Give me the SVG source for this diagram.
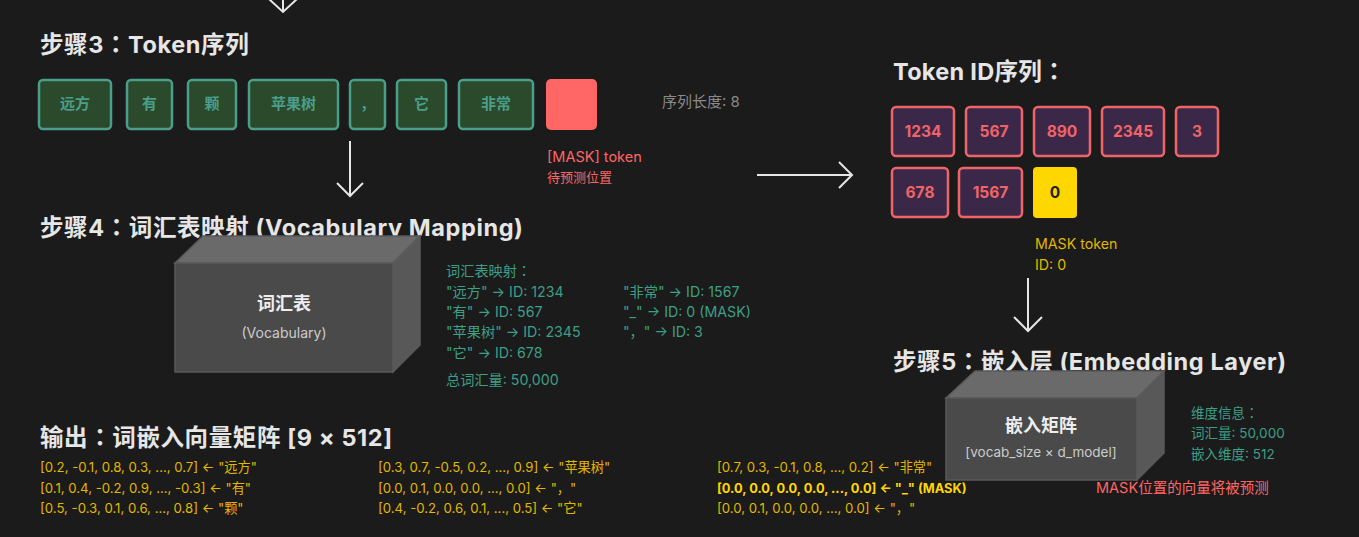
<svg xmlns="http://www.w3.org/2000/svg" width="1359" height="537" viewBox="0 0 1359 537">
<defs>
<style>
text{font-family:"Inter","Noto Sans CJK SC",sans-serif}
.title{font-size:23.5px;font-weight:700;fill:#e6e6e6;letter-spacing:0.6px}
.c{font-family:"Noto Sans CJK TC",sans-serif}
.tok rect{fill:#2b4a2b;stroke:#4a9e8a;stroke-width:2.5}
.tok text{font-size:15px;font-weight:700;fill:#4a9e8a;text-anchor:middle}
.id rect{fill:#3b2848;stroke:#f06468;stroke-width:2.5}
.id text{font-size:15.5px;font-weight:700;fill:#f06468;text-anchor:middle}
.teal{font-size:14.2px;fill:#3d9f86}
.vec{font-size:13.2px;fill:#e0b800}
.arrow{stroke:#e6e6e6;stroke-width:2;fill:none}
.front{fill:#4a4a4a;stroke:#5a5a5a;stroke-width:1.5}
.top{fill:#6a6a6a;stroke:#5a5a5a;stroke-width:1.5}
.side{fill:#585858;stroke:#5a5a5a;stroke-width:1.5}
</style>
</defs>
<rect width="1359" height="537" fill="#1b1b1b"/>

<g id="connectors">
<path class="arrow" d="M283 0V12M269 -1L283 12L297 -1"/>
<path class="arrow" d="M350 141V196M337 183L350 196L363 183"/>
<path class="arrow" d="M757 175H852M839 162L852 175L839 188"/>
<path class="arrow" d="M1028 278V331M1014 317L1028 331L1042 317"/>
</g>

<g id="step3">
<text class="title" x="40" y="53">步骤3<tspan class="c">：</tspan>Token序列</text>
<g class="tok" id="tok1"><rect x="39" y="80" width="72" height="49" rx="4"/><text x="75" y="109">远方</text></g>
<g class="tok" id="tok2"><rect x="127" y="80" width="45" height="49" rx="4"/><text x="149.5" y="109">有</text></g>
<g class="tok" id="tok3"><rect x="188" y="80" width="48" height="49" rx="4"/><text x="212" y="109">颗</text></g>
<g class="tok" id="tok4"><rect x="249" y="80" width="89" height="49" rx="4"/><text x="293.5" y="109">苹果树</text></g>
<g class="tok" id="tok5"><rect x="350" y="80" width="35" height="49" rx="4"/><text x="367.5" y="109">，</text></g>
<g class="tok" id="tok6"><rect x="397" y="80" width="49" height="49" rx="4"/><text x="421.5" y="109">它</text></g>
<g class="tok" id="tok7"><rect x="459" y="80" width="74" height="49" rx="4"/><text x="496" y="109">非常</text></g>
<g id="tok8"><rect x="546" y="79" width="51" height="51" rx="5" fill="#ff6666"/></g>
<text x="662" y="107" font-size="15" fill="#8a8a8a">序列长度: 8</text>
<text x="547" y="162" font-size="14.5" fill="#ff6666">[MASK] token</text>
<text x="547" y="182" font-size="13" fill="#ff6666">待预测位置</text>
</g>

<g id="tokenids">
<text class="title" x="893" y="80" style="letter-spacing:0.3px">Token ID序列<tspan class="c">：</tspan></text>
<g class="id" id="id1"><rect x="892" y="107" width="62" height="49" rx="4"/><text x="923" y="137">1234</text></g>
<g class="id" id="id2"><rect x="966" y="107" width="56" height="49" rx="4"/><text x="994" y="137">567</text></g>
<g class="id" id="id3"><rect x="1034" y="107" width="56" height="49" rx="4"/><text x="1062" y="137">890</text></g>
<g class="id" id="id4"><rect x="1102" y="107" width="62" height="49" rx="4"/><text x="1133" y="137">2345</text></g>
<g class="id" id="id5"><rect x="1176" y="107" width="42" height="49" rx="4"/><text x="1197" y="137">3</text></g>
<g class="id" id="id6"><rect x="892" y="168" width="56" height="49" rx="4"/><text x="920" y="198">678</text></g>
<g class="id" id="id7"><rect x="959" y="168" width="63" height="49" rx="4"/><text x="990.5" y="198">1567</text></g>
<g id="id8"><rect x="1033" y="167" width="44" height="51" rx="4" fill="#ffd700"/><text x="1055" y="198" font-size="15.5" font-weight="700" fill="#222" text-anchor="middle">0</text></g>
<text x="1035" y="249" font-size="14.2" fill="#e0b800">MASK token</text>
<text x="1035" y="270" font-size="14.2" fill="#e0b800">ID: 0</text>
</g>

<g id="step4">
<text class="title" x="40" y="236">步骤4<tspan class="c">：</tspan>词汇表映射 (Vocabulary Mapping)</text>
<g id="vocab">
<polygon class="top" points="175,263 203,236 420,236 393,263"/>
<polygon class="side" points="393,263 420,236 420,345 393,372"/>
<rect class="front" x="175" y="263" width="218" height="109"/>
<text x="284" y="310" font-size="18" font-weight="700" fill="#eeeeee" text-anchor="middle">词汇表</text>
<text x="284" y="338" font-size="14" fill="#cccccc" text-anchor="middle">(Vocabulary)</text>
</g>
<text class="teal" x="446" y="276">词汇表映射<tspan class="c">：</tspan></text>
<text class="teal" x="446" y="297">"远方" → ID: 1234</text>
<text class="teal" x="446" y="317">"有" → ID: 567</text>
<text class="teal" x="446" y="337">"苹果树" → ID: 2345</text>
<text class="teal" x="446" y="358">"它" → ID: 678</text>
<text class="teal" x="623" y="297">"非常" → ID: 1567</text>
<text class="teal" x="623" y="317">"_" → ID: 0 (MASK)</text>
<text class="teal" x="623" y="337">"，" → ID: 3</text>
<text class="teal" x="446" y="385">总词汇量: 50,000</text>
</g>

<g id="step5">
<text class="title" x="893" y="370">步骤5<tspan class="c">：</tspan>嵌入层 (Embedding Layer)</text>
<g id="embed">
<polygon class="top" points="946,398 975,371 1164,371 1137,398"/>
<polygon class="side" points="1137,398 1164,371 1164,453 1137,480"/>
<rect class="front" x="946" y="398" width="191" height="82"/>
<text x="1041" y="432" font-size="18" font-weight="700" fill="#eeeeee" text-anchor="middle">嵌入矩阵</text>
<text x="1041" y="457" font-size="13.5" fill="#cccccc" text-anchor="middle">[vocab_size × d_model]</text>
</g>
<text class="teal" x="1191" y="418" style="font-size:13.5px">维度信息<tspan class="c">：</tspan></text>
<text class="teal" x="1191" y="438" style="font-size:13.5px">词汇量: 50,000</text>
<text class="teal" x="1191" y="459" style="font-size:13.5px">嵌入维度: 512</text>
<text x="1096" y="493" font-size="14.5" fill="#ff6666">MASK位置的向量将被预测</text>
</g>

<g id="output">
<text class="title" x="40" y="446">输出<tspan class="c">：</tspan>词嵌入向量矩阵 [9 × 512]</text>
<text class="vec" x="40" y="472">[0.2, -0.1, 0.8, 0.3, ..., 0.7] ← "远方"</text>
<text class="vec" x="40" y="493">[0.1, 0.4, -0.2, 0.9, ..., -0.3] ← "有"</text>
<text class="vec" x="40" y="513">[0.5, -0.3, 0.1, 0.6, ..., 0.8] ← "颗"</text>
<text class="vec" x="378" y="472">[0.3, 0.7, -0.5, 0.2, ..., 0.9] ← "苹果树"</text>
<text class="vec" x="378" y="493">[0.0, 0.1, 0.0, 0.0, ..., 0.0] ← "，"</text>
<text class="vec" x="378" y="513">[0.4, -0.2, 0.6, 0.1, ..., 0.5] ← "它"</text>
<text class="vec" x="717" y="472">[0.7, 0.3, -0.1, 0.8, ..., 0.2] ← "非常"</text>
<text class="vec" x="717" y="493" style="font-size:12.8px;font-weight:700;fill:#ffd700">[0.0, 0.0, 0.0, 0.0, ..., 0.0] ← "_" (MASK)</text>
<text class="vec" x="717" y="513">[0.0, 0.1, 0.0, 0.0, ..., 0.0] ← "，"</text>
</g>
</svg>
